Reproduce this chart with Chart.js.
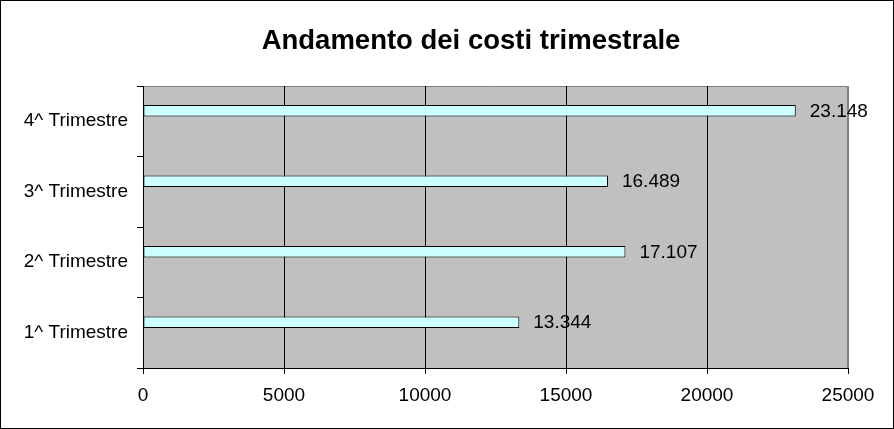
<!DOCTYPE html>
<html>
<head>
<meta charset="utf-8">
<style>
  html, body { margin: 0; padding: 0; background: #fff; }
  #wrap { width: 894px; height: 429px; }
</style>
<script src="https://cdn.jsdelivr.net/npm/chart.js@4/dist/chart.umd.min.js"></script>
</head>
<body>
<div id="wrap"><canvas id="myChart" width="894" height="429"></canvas></div>
<script>
const titleText = "Andamento dei costi trimestrale";
const quarters = ["1^ Trimestre", "2^ Trimestre", "3^ Trimestre", "4^ Trimestre"];
const costs = [13344, 17107, 16489, 23148];
const xMax = 25000;
const xStep = 5000;

const cxt = document.querySelector("#myChart");
const FONT = "'Liberation Sans', Arial, sans-serif";

// 23148 -> "23.148"
function fmt(v) {
  return String(v).replace(/\B(?=(\d{3})+(?!\d))/g, ".");
}

// white page, plot background, outer frame
const backdrop = {
  id: "backdrop",
  beforeDraw(chart) {
    const { ctx, chartArea: a } = chart;
    ctx.save();
    ctx.fillStyle = "#fff";
    ctx.fillRect(0, 0, chart.width, chart.height);
    ctx.fillStyle = "#c0c0c0";
    ctx.fillRect(a.left, a.top, a.right - a.left, a.bottom - a.top);
    ctx.strokeStyle = "#808080";
    ctx.lineWidth = 1;
    ctx.beginPath();
    ctx.moveTo(a.left, a.top + 0.5);
    ctx.lineTo(a.right - 0.5, a.top + 0.5);
    ctx.lineTo(a.right - 0.5, a.bottom);
    ctx.stroke();
    ctx.restore();
  },
  afterDraw(chart) {
    const { ctx } = chart;
    ctx.save();
    ctx.strokeStyle = "#000";
    ctx.lineWidth = 1;
    ctx.strokeRect(0.5, 0.5, chart.width - 1, chart.height - 1);
    ctx.fillStyle = "#000";
    ctx.font = "bold 27.5px " + FONT;
    ctx.textAlign = "center";
    ctx.textBaseline = "alphabetic";
    ctx.fillText(titleText, 471, 49);
    ctx.restore();
  },
};

// value labels to the right of each bar
const valueLabels = {
  id: "valueLabels",
  afterDatasetsDraw(chart) {
    const { ctx } = chart;
    const meta = chart.getDatasetMeta(0);
    ctx.save();
    ctx.fillStyle = "#000";
    ctx.font = "19px " + FONT;
    ctx.textAlign = "left";
    ctx.textBaseline = "middle";
    meta.data.forEach((bar, i) => {
      ctx.fillText(fmt(costs[i]), bar.x + 14, bar.y + 1);
    });
    ctx.restore();
  },
};

const config = {
  type: "bar",
  data: {
    labels: quarters,
    datasets: [
      {
        label: "Costi",
        data: costs,
        backgroundColor: "#ccffff",
        borderColor: "#000",
        borderWidth: 1,
        borderSkipped: false,
        categoryPercentage: 0.596,
        barPercentage: 0.55,
      },
      {
        // empty second series, as in the original sheet
        label: "",
        data: costs.map(() => null),
        categoryPercentage: 0.596,
        barPercentage: 0.55,
      },
    ],
  },
  options: {
    indexAxis: "y",
    responsive: false,
    animation: false,
    layout: { padding: { top: 86, right: 46, bottom: 0, left: 0 } },
    plugins: {
      legend: { display: false },
      title: { display: false },
      tooltip: { enabled: false },
    },
    scales: {
      x: {
        min: 0,
        max: xMax,
        ticks: {
          stepSize: xStep,
          color: "#000",
          padding: 10,
          maxRotation: 0,
          font: { family: FONT, size: 19 },
          callback: (v) => String(v),
        },
        grid: {
          color: (c) => (c.index === 5 ? "#808080" : "#000"),
          lineWidth: 1,
          tickLength: 6,
          tickColor: "#000",
        },
        border: { color: "#000", width: 1 },
        afterFit: (s) => { s.height = 61; },
      },
      y: {
        reverse: true,
        ticks: {
          color: "#000",
          padding: 9,
          font: { family: FONT, size: 19 },
        },
        grid: {
          offset: true,
          drawOnChartArea: false,
          tickLength: 6,
          color: "#000",
        },
        border: { color: "#000", width: 1 },
        afterFit: (s) => { s.width = 143; },
      },
    },
  },
  plugins: [backdrop, valueLabels],
};

new Chart(cxt, config);
</script>
</body>
</html>
